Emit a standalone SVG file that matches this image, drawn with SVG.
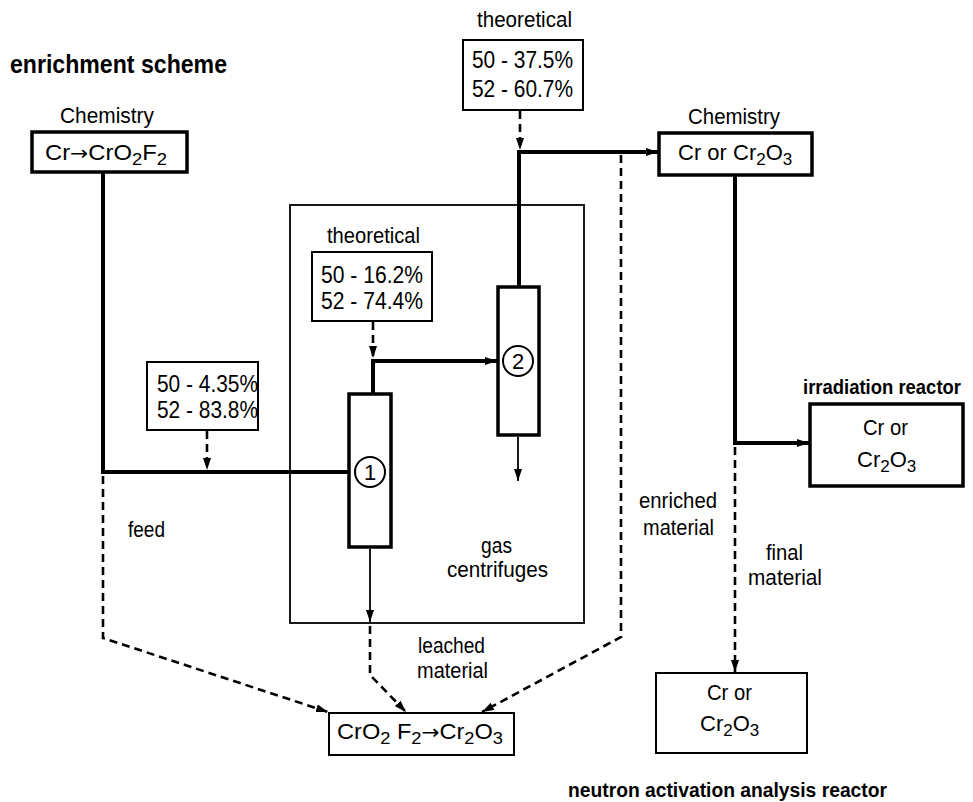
<svg xmlns="http://www.w3.org/2000/svg" width="973" height="802" viewBox="0 0 973 802">
<defs>
<style>
text{font-family:"Liberation Sans",Arial,sans-serif;fill:#000}
.lbl{font-size:22px}
.val{font-size:23px}
.ttl{font-size:25px;font-weight:bold}
.bld{font-size:20px;font-weight:bold}
.arr{font-family:"DejaVu Sans",sans-serif}
.thick{fill:none;stroke:#000;stroke-width:4}
.thin{fill:none;stroke:#000;stroke-width:1.8}
.dash{fill:none;stroke:#000;stroke-width:2.6;stroke-dasharray:8 5}
.box3{fill:#fff;stroke:#000;stroke-width:3.5}
.box2{fill:#fff;stroke:#000;stroke-width:2}
.encl{fill:none;stroke:#000;stroke-width:1.8}
.circ{fill:#fff;stroke:#000;stroke-width:2}
</style>
<marker id="ah" viewBox="0 0 12 8" refX="12" refY="4" markerWidth="12" markerHeight="8" markerUnits="userSpaceOnUse" orient="auto">
<path d="M0,0 L12,4 L0,8 z" fill="#000"/>
</marker>
</defs>
<rect width="973" height="802" fill="#fff"/>

<text class="ttl" x="10" y="73" textLength="217" lengthAdjust="spacingAndGlyphs">enrichment scheme</text>

<g id="enclosure">
<rect class="encl" x="290" y="205" width="294" height="418"/>
<text class="lbl" x="481" y="553" textLength="31" lengthAdjust="spacingAndGlyphs">gas</text>
<text class="lbl" x="447" y="577" textLength="101" lengthAdjust="spacingAndGlyphs">centrifuges</text>
</g>

<g id="connectors">
<polyline class="thick" points="103,172 103,472 349,472"/>
<line class="dash" x1="207" y1="431" x2="207" y2="470" marker-end="url(#ah)"/>
<polyline class="dash" points="103,476 103,638 328,712" marker-end="url(#ah)"/>
<line class="thin" x1="370" y1="549" x2="370" y2="622" marker-end="url(#ah)"/>
<polyline class="dash" points="370,626 370,675 406,712" marker-end="url(#ah)"/>
<polyline class="dash" points="621,155 621,637 482,712" marker-end="url(#ah)"/>
<line class="dash" x1="373" y1="322" x2="373" y2="358" marker-end="url(#ah)"/>
<polyline class="thick" points="373,393 373,361 497,361" marker-end="url(#ah)"/>
<line class="dash" x1="520" y1="111" x2="520" y2="150" marker-end="url(#ah)"/>
<polyline class="thick" points="519,286 519,152 658,152" marker-end="url(#ah)"/>
<line class="thin" x1="518" y1="437" x2="518" y2="481" marker-end="url(#ah)"/>
<polyline class="thick" points="735,176 735,443 809,443" marker-end="url(#ah)"/>
<line class="dash" x1="735" y1="447" x2="735" y2="672" marker-end="url(#ah)"/>
</g>

<g id="chem1">
<text class="lbl" x="60" y="123" textLength="94" lengthAdjust="spacingAndGlyphs">Chemistry</text>
<rect class="box3" x="32" y="132" width="155" height="40"/>
<text class="lbl" x="45" y="160" textLength="122" lengthAdjust="spacingAndGlyphs">Cr<tspan class="arr" font-size="20">→</tspan>CrO<tspan font-size="17" dy="5">2</tspan><tspan dy="-5">F</tspan><tspan font-size="17" dy="5">2</tspan></text>
</g>

<g id="feedval">
<rect class="box2" x="147" y="362" width="111" height="68"/>
<text class="val" x="157" y="392" textLength="101" lengthAdjust="spacingAndGlyphs">50 - 4.35%</text>
<text class="val" x="157" y="418" textLength="101" lengthAdjust="spacingAndGlyphs">52 - 83.8%</text>
</g>

<g id="theo1">
<text class="lbl" x="327" y="243" textLength="93" lengthAdjust="spacingAndGlyphs">theoretical</text>
<rect class="box2" x="312" y="252" width="120" height="69"/>
<text class="val" x="321" y="283" textLength="102" lengthAdjust="spacingAndGlyphs">50 - 16.2%</text>
<text class="val" x="321" y="309" textLength="102" lengthAdjust="spacingAndGlyphs">52 - 74.4%</text>
</g>

<g id="theo2">
<text class="lbl" x="477" y="27" textLength="95" lengthAdjust="spacingAndGlyphs">theoretical</text>
<rect class="box2" x="463" y="40" width="120" height="70"/>
<text class="val" x="472" y="68" textLength="101" lengthAdjust="spacingAndGlyphs">50 - 37.5%</text>
<text class="val" x="472" y="97" textLength="101" lengthAdjust="spacingAndGlyphs">52 - 60.7%</text>
</g>

<g id="centrifuge1">
<rect class="box3" x="349" y="394" width="42" height="153"/>
<circle class="circ" cx="370" cy="472" r="15"/>
<text class="lbl" x="370" y="480" text-anchor="middle">1</text>
</g>

<g id="centrifuge2">
<rect class="box3" x="498" y="287" width="41" height="148"/>
<circle class="circ" cx="518" cy="361" r="15"/>
<text class="lbl" x="518" y="369" text-anchor="middle">2</text>
</g>

<g id="chem2">
<text class="lbl" x="688" y="124" textLength="92" lengthAdjust="spacingAndGlyphs">Chemistry</text>
<rect class="box3" x="659" y="133" width="153" height="42"/>
<text class="lbl" x="678" y="160">Cr or Cr<tspan font-size="17" dy="5">2</tspan><tspan dy="-5">O</tspan><tspan font-size="17" dy="5">3</tspan></text>
</g>

<g id="irradiation">
<text class="bld" x="803" y="394" textLength="158" lengthAdjust="spacingAndGlyphs">irradiation reactor</text>
<rect class="box3" x="810" y="404" width="153" height="82"/>
<text class="lbl" x="863" y="435" textLength="45" lengthAdjust="spacingAndGlyphs">Cr or</text>
<text class="lbl" x="857" y="467">Cr<tspan font-size="17" dy="5">2</tspan><tspan dy="-5">O</tspan><tspan font-size="17" dy="5">3</tspan></text>
</g>

<g id="naa">
<rect class="box2" x="656" y="673" width="151" height="80"/>
<text class="lbl" x="707" y="700" textLength="45" lengthAdjust="spacingAndGlyphs">Cr or</text>
<text class="lbl" x="700" y="731">Cr<tspan font-size="17" dy="5">2</tspan><tspan dy="-5">O</tspan><tspan font-size="17" dy="5">3</tspan></text>
<text class="bld" x="568" y="797" textLength="319" lengthAdjust="spacingAndGlyphs">neutron activation analysis reactor</text>
</g>

<g id="convert">
<rect class="box2" x="329" y="713" width="185" height="42"/>
<text class="lbl" x="337" y="739" textLength="166" lengthAdjust="spacingAndGlyphs">CrO<tspan font-size="17" dy="5">2</tspan><tspan dy="-5"> F</tspan><tspan font-size="17" dy="5">2</tspan><tspan class="arr" font-size="20" dy="-5">→</tspan>Cr<tspan font-size="17" dy="5">2</tspan><tspan dy="-5">O</tspan><tspan font-size="17" dy="5">3</tspan></text>
</g>

<g id="labels">
<text class="lbl" x="128" y="537" textLength="37" lengthAdjust="spacingAndGlyphs">feed</text>
<text class="lbl" x="418" y="653" textLength="67" lengthAdjust="spacingAndGlyphs">leached</text>
<text class="lbl" x="417" y="678" textLength="71" lengthAdjust="spacingAndGlyphs">material</text>
<text class="lbl" x="639" y="508" textLength="78" lengthAdjust="spacingAndGlyphs">enriched</text>
<text class="lbl" x="643" y="535" textLength="71" lengthAdjust="spacingAndGlyphs">material</text>
<text class="lbl" x="766" y="560" textLength="37" lengthAdjust="spacingAndGlyphs">final</text>
<text class="lbl" x="748" y="585" textLength="74" lengthAdjust="spacingAndGlyphs">material</text>
</g>
</svg>
